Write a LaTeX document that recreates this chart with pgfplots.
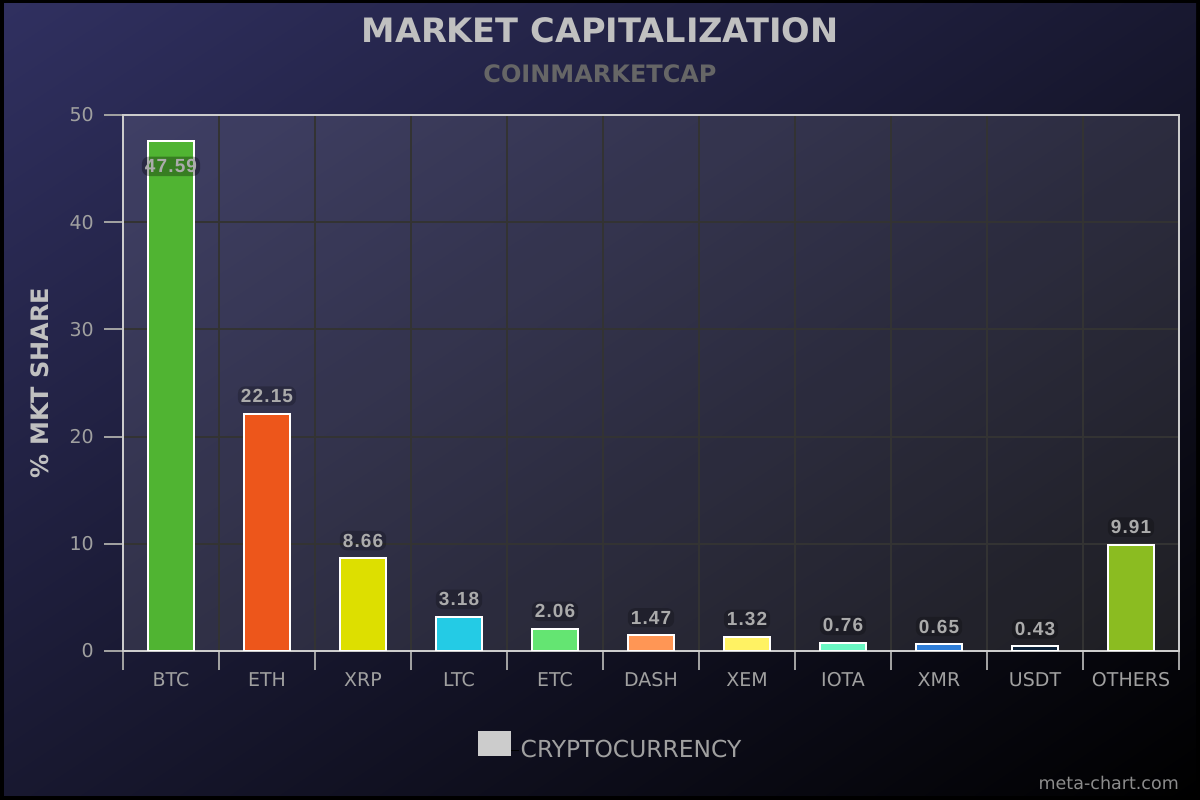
\documentclass[border=0pt]{standalone}
\usepackage{fontspec}
\setmainfont{DejaVu Sans}
\newfontfamily\labfont[LetterSpace=6]{Liberation Sans}
\usepackage{pgfplots}
\pgfplotsset{compat=1.18}
\usetikzlibrary{shadings}

\definecolor{bgtop}{RGB}{48,48,96}
\definecolor{bgmid}{RGB}{24,24,48}
\definecolor{framecol}{HTML}{CCCCCC}
\definecolor{tickcol}{HTML}{A0A0A0}
\definecolor{gridcol}{HTML}{333333}
\definecolor{titlecol}{HTML}{C0C0C0}
\definecolor{subcol}{HTML}{666666}
\definecolor{labcol}{HTML}{ABABAB}
\definecolor{legcol}{HTML}{CCCCCC}
\definecolor{metacol}{HTML}{8C8C8C}
% highcharts palette
\definecolor{cBTC}{HTML}{50B432}
\definecolor{cETH}{HTML}{ED561B}
\definecolor{cXRP}{HTML}{DDDF00}
\definecolor{cLTC}{HTML}{24CBE5}
\definecolor{cETC}{HTML}{64E572}
\definecolor{cDASH}{HTML}{FF9655}
\definecolor{cXEM}{HTML}{FFF263}
\definecolor{cIOTA}{HTML}{6AF9C4}
\definecolor{cXMR}{HTML}{2F7ED8}
\definecolor{cUSDT}{HTML}{0D233A}
\definecolor{cOTH}{HTML}{8BBC21}

\pgfplotsset{
  mybar/.style={ybar, bar width=46pt, draw=white, line width=2pt, fill=#1},
}

\begin{document}
\begin{tikzpicture}[x=1pt,y=1pt]
\fill[black] (0,0) rectangle (1200,800);
\shade[upper left=bgtop, upper right=bgmid, lower left=bgmid, lower right=black] (4,4) rectangle (1196,796);
\node[anchor=base, inner sep=0pt, font=\bfseries\fontsize{33.6}{40}\selectfont, text=titlecol] at (600,757) {MARKET CAPITALIZATION};
\node[anchor=base, inner sep=0pt, font=\bfseries\fontsize{24}{29}\selectfont, text=subcol] at (600,717) {COINMARKETCAP};
\node[anchor=base east, inner sep=0pt, font=\fontsize{17.5}{21}\selectfont, text=metacol] at (1179,10) {meta-chart.com};

\begin{axis}[
  at={(123pt,149pt)}, anchor=south west,
  scale only axis, width=1056pt, height=536pt,
  xmin=-0.5, xmax=10.5, ymin=0, ymax=50,
  enlargelimits=false,
  /pgf/number format/assume math mode=true,
  axis background/.style={fill=white, fill opacity=0.1},
  axis line style={draw=framecol, line width=2pt},
  xtick={0,...,10},
  xticklabels={BTC,ETH,XRP,LTC,ETC,DASH,XEM,IOTA,XMR,USDT,OTHERS},
  minor xtick={-0.5,0.5,...,10.5},
  ytick={0,10,...,50},
  xtick pos=bottom, ytick pos=left,
  tick align=outside,
  major tick length=19pt, minor tick length=19pt,
  major x tick style={draw=none},
  minor x tick style={draw=tickcol, line width=2pt},
  y tick style={draw=tickcol, line width=2pt},
  xminorgrids=true, ymajorgrids=true,
  major grid style={draw=gridcol, line width=2pt},
  minor grid style={draw=gridcol, line width=2pt},
  ticklabel style={text=tickcol, font=\fontsize{19}{23}\selectfont, inner sep=0pt},
  xticklabel style={anchor=base, yshift=-16pt},
  yticklabel style={anchor=east, xshift=-10pt},
  ylabel={\% MKT SHARE},
  every axis y label/.style={at={(axis description cs:-0.0786,0.5)}, rotate=90, anchor=center,
    font=\bfseries\fontsize{24}{28}\selectfont, text=titlecol},
  nodes near coords={\pgfmathprintnumber[fixed,precision=2,zerofill]{\pgfplotspointmeta}},
  nodes near coords style={font=\labfont\bfseries\fontsize{19}{22}\selectfont, text=labcol,
    inner xsep=3pt, inner ysep=3pt, anchor=base, yshift=11pt,
    fill=black, fill opacity=0.2, text opacity=1, rounded corners=7pt, line width=0pt},
  legend style={at={(axis description cs:0.462,-0.177)}, anchor=center, draw=none, fill=none,
    text=tickcol, font=\fontsize{23.4}{27}\selectfont},
]
\addlegendimage{legend image code/.code={\path (0pt,0pt) -- (40pt,0pt); \fill[legcol] (0pt,-5pt) rectangle (32pt,19pt);}}
\addlegendentry{CRYPTOCURRENCY}
\addplot[mybar=cBTC, nodes near coords style={yshift=-43pt, fill opacity=0.3}] coordinates {(0,47.59)};
\addplot[mybar=cETH] coordinates {(1,22.15)};
\addplot[mybar=cXRP] coordinates {(2,8.66)};
\addplot[mybar=cLTC] coordinates {(3,3.18)};
\addplot[mybar=cETC] coordinates {(4,2.06)};
\addplot[mybar=cDASH] coordinates {(5,1.47)};
\addplot[mybar=cXEM] coordinates {(6,1.32)};
\addplot[mybar=cIOTA] coordinates {(7,0.76)};
\addplot[mybar=cXMR] coordinates {(8,0.65)};
\addplot[mybar=cUSDT] coordinates {(9,0.43)};
\addplot[mybar=cOTH] coordinates {(10,9.91)};
\end{axis}
\end{tikzpicture}
\end{document}
